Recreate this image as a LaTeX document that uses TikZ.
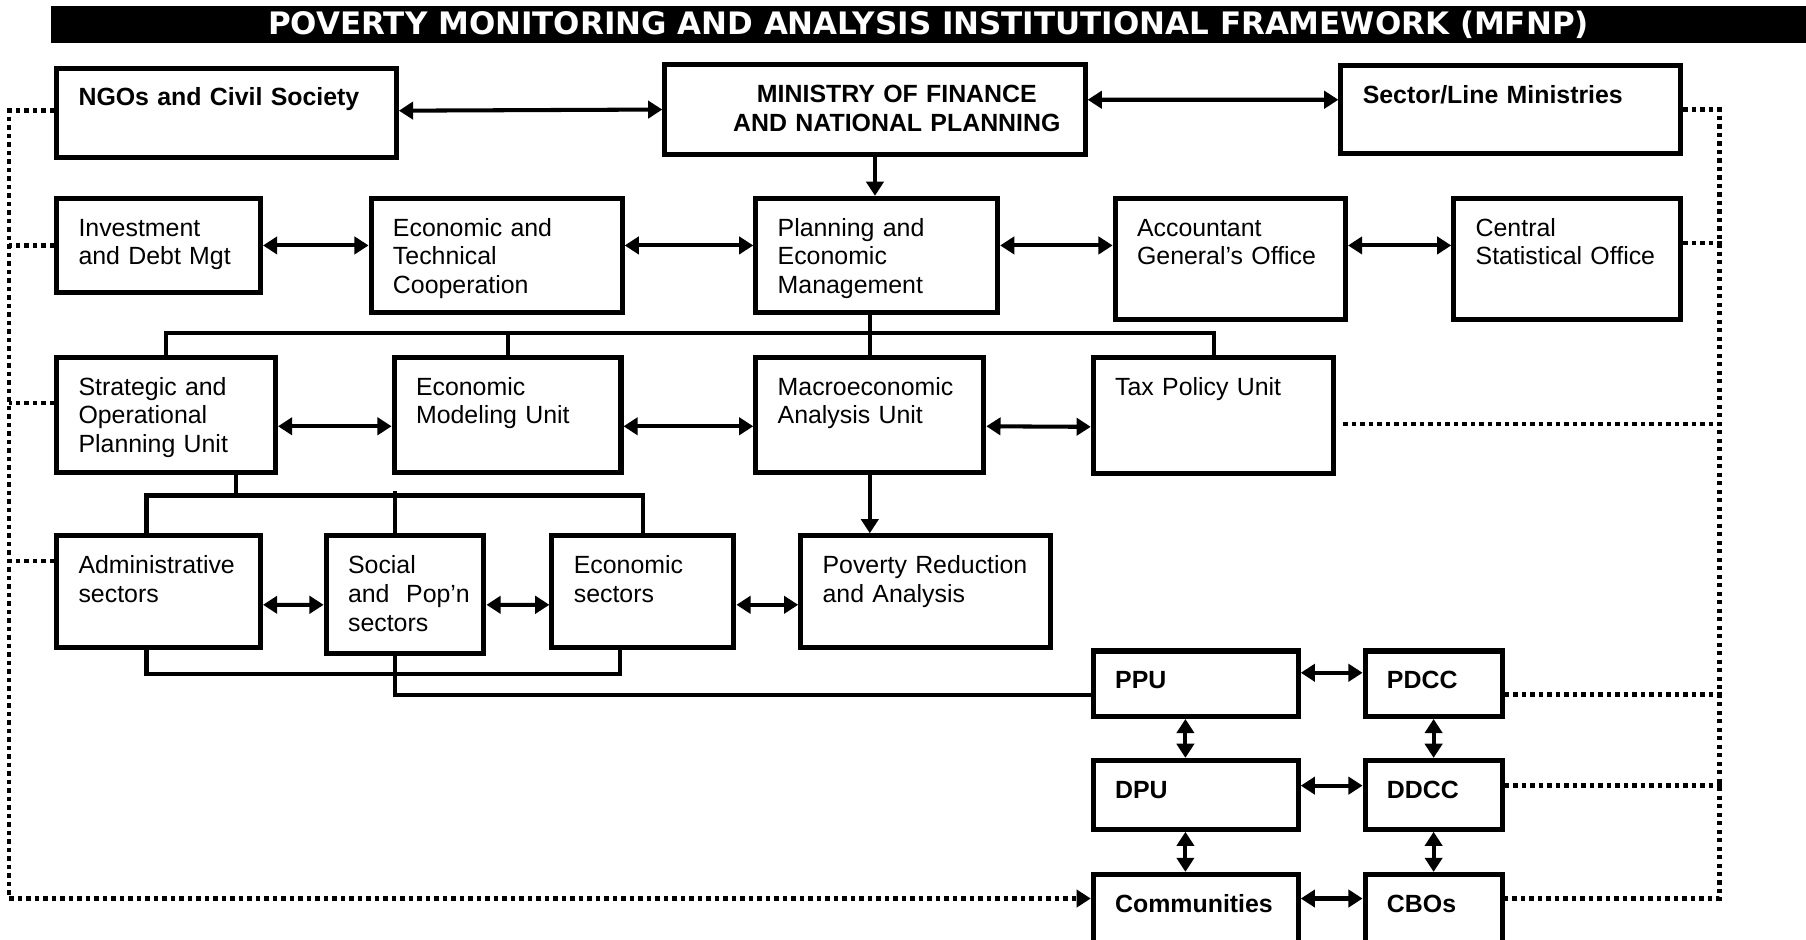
\documentclass[tikz,border=0pt]{standalone}
\usepackage{fontspec}
\setmainfont{Liberation Sans}
\newfontfamily\titlefont{DejaVu Sans}
\usetikzlibrary{arrows.meta}

\tikzset{
  unit/.style={draw, line width=2.5pt, anchor=north west, align=left,
    inner xsep=0.38cm, inner ysep=0.34cm, text height=9pt,
    font=\fontsize{12.3}{14.2}\selectfont},
  head/.style={unit, font=\fontsize{12.3}{14.2}\selectfont\bfseries},
  conn/.style={line width=2pt},
  link/.style={line width=2pt},
  dots/.style={line width=2.2pt, dash pattern=on 2.2pt off 2pt}
}

\begin{document}
\begin{tikzpicture}[x=0.02cm, y=-0.02cm, >={Triangle[length=7pt,width=8.5pt]}]
\useasboundingbox (0,0) rectangle (1568,815.3);

\node[fill=black, text=white, anchor=north west, inner sep=0pt, minimum width=30.48cm, minimum height=0.64cm,
  font=\titlefont\fontsize{15.3}{18}\selectfont\bfseries] (title) at (44,5)
  {POVERTY MONITORING AND ANALYSIS INSTITUTIONAL FRAMEWORK (MFNP)};

\node[head, text width=5.14cm, text depth=0.56cm] (ngo) at (47,57) {NGOs and Civil Society};
\node[head, inner xsep=0pt, text width=7.3cm, text depth=0.56cm, align=center] (mof) at (575,54)
  {\hspace*{0.76cm}MINISTRY OF FINANCE\\\hspace*{0.76cm}AND NATIONAL PLANNING};
\node[head, text width=5.14cm, text depth=0.52cm] (slm) at (1162,55) {Sector/Line Ministries};

\node[unit, text width=2.78cm, text depth=0.64cm] (inv) at (47,170) {Investment\\and Debt Mgt};
\node[unit, text width=3.60cm, text depth=0.98cm] (etc) at (320,170) {Economic and\\Technical\\Cooperation};
\node[unit, text width=3.44cm, text depth=0.98cm] (pem) at (654,170) {Planning and\\Economic\\Management};
\node[unit, text width=3.24cm, text depth=1.10cm] (ago) at (966,170) {Accountant\\General’s Office};
\node[unit, text width=3.18cm, text depth=1.10cm] (cso) at (1260,170) {Central\\Statistical Office};

\node[unit, text width=3.04cm, text depth=1.0cm] (sopu) at (47,308) {Strategic and\\Operational\\Planning Unit};
\node[unit, text width=3.18cm, text depth=1.0cm] (emu) at (340,308) {Economic\\Modeling Unit};
\node[unit, text width=3.20cm, text depth=1.0cm] (mau) at (654,308) {Macroeconomic\\Analysis Unit};
\node[unit, text width=3.42cm, text depth=1.02cm] (tpu) at (947,308) {Tax Policy Unit};

\node[unit, text width=2.78cm, text depth=0.94cm] (adm) at (47,463) {Administrative\\sectors};
\node[unit, text width=1.98cm, text depth=1.04cm] (soc) at (281,463) {Social\\and~~Pop’n\\sectors};
\node[unit, text width=2.40cm, text depth=0.94cm] (eco) at (477,463) {Economic\\sectors};
\node[unit, text width=3.58cm, text depth=0.94cm] (pra) at (693,463) {Poverty Reduction\\and Analysis};

\node[head, text width=2.80cm, text depth=0.14cm] (ppu) at (947,563) {PPU};
\node[head, text width=1.62cm, text depth=0.14cm] (pdcc) at (1183,563) {PDCC};
\node[head, text width=2.80cm, text depth=0.20cm] (dpu) at (947,658) {DPU};
\node[head, text width=1.62cm, text depth=0.20cm] (ddcc) at (1183,658) {DDCC};
\node[head, text width=2.80cm, text depth=0.40cm] (com) at (947,757) {Communities};
\node[head, text width=1.62cm, text depth=0.40cm] (cbo) at (1183,757) {CBOs};

\draw[conn,<->] ([yshift=0.04cm]ngo.east) -- (mof.west);
\draw[conn,<->] ([yshift=0.17cm]mof.east) -- ([yshift=0.17cm]slm.west);
\draw[conn,->] (mof.south) -- (mof.south |- pem.north);

\draw[conn,<->] (inv.east) -- (etc.west |- inv.east);
\draw[conn,<->] (etc.east |- inv.east) -- (pem.west |- inv.east);
\draw[conn,<->] (pem.east |- inv.east) -- (ago.west |- inv.east);
\draw[conn,<->] (ago.east |- inv.east) -- (cso.west |- inv.east);

\coordinate (bus1) at (0,289);
\draw[link] (mau.north |- pem.south) -- (mau.north);
\draw[link] (sopu.north) |- (tpu.north |- bus1) -- (tpu.north);
\draw[link] (emu.north) -- (emu.north |- bus1);

\draw[conn,<->] ([yshift=-0.2cm]sopu.east) -- ([yshift=-0.2cm]emu.west);
\draw[conn,<->] ([yshift=-0.2cm]emu.east) -- ([yshift=-0.2cm]mau.west);
\draw[conn,<->] ([yshift=-0.2cm]mau.east) -- ([yshift=-0.2cm]tpu.west);
\draw[conn,->] (mau.south) -- (mau.south |- pra.north);

\path ([xshift=1.22cm]sopu.south) ++(0,18) coordinate (bus2);
\draw[link] ([xshift=1.22cm]sopu.south) -- (bus2);
\draw[link] ([xshift=-0.21cm]adm.north) |- (bus2) -| (eco.north);
\draw[link] ([xshift=-0.17cm]soc.north) -- ++(0,-37);

\draw[conn,<->] ([yshift=-0.23cm]adm.east) -- ([yshift=-0.18cm]soc.west);
\draw[conn,<->] ([yshift=-0.18cm]soc.east) -- ([yshift=-0.23cm]eco.west);
\draw[conn,<->] ([yshift=-0.23cm]eco.east) -- ([yshift=-0.23cm]pra.west);

\draw[link] ([xshift=-0.21cm]adm.south) -- ++(0,21) -| ([xshift=-0.4cm]eco.south);
\draw[link] ([xshift=-0.17cm]soc.south) |- ([yshift=-0.19cm]ppu.west);

\draw[conn,<->] ([yshift=0.19cm]ppu.east) -- ([yshift=0.19cm]pdcc.west);
\draw[conn,<->] ([yshift=0.16cm]dpu.east) -- ([yshift=0.16cm]ddcc.west);
\draw[conn,<->] ([yshift=0.28cm]com.east) -- ([yshift=0.28cm]cbo.west);
\draw[conn,<->] ([xshift=-0.18cm]ppu.south) -- ([xshift=-0.18cm]dpu.north);
\draw[conn,<->] ([xshift=-0.18cm]dpu.south) -- ([xshift=-0.18cm]com.north);
\draw[conn,<->] (pdcc.south) -- (ddcc.north);
\draw[conn,<->] (ddcc.south) -- (cbo.north);

\coordinate (lft) at (8,0);
\coordinate (rgt) at (1493,0);
\coordinate (comin) at ([yshift=0.28cm]com.west);
\coordinate (cboout) at ([yshift=0.28cm]cbo.east);
\draw[dots,->] ([yshift=0.04cm]ngo.west) -| (lft |- comin) -- (comin);
\draw[dots] (inv.west) -- (inv.west -| lft);
\draw[dots] ([yshift=0.2cm]sopu.west) -- ++(-39,0);
\draw[dots] ([yshift=0.53cm]adm.west) -- ++(-39,0);

\draw[dots] (slm.east) -| (rgt |- cboout) -- (cboout);
\draw[dots] ([yshift=0.27cm]cso.east) -- ++(36,0);
\draw[dots] ([shift={(0.12cm,-0.15cm)}]tpu.east) -- ++(331,0);
\draw[dots] ([yshift=-0.19cm]pdcc.east) -- ++(191,0);
\draw[dots] ([yshift=0.16cm]ddcc.east) -- ++(191,0);
\end{tikzpicture}
\end{document}
